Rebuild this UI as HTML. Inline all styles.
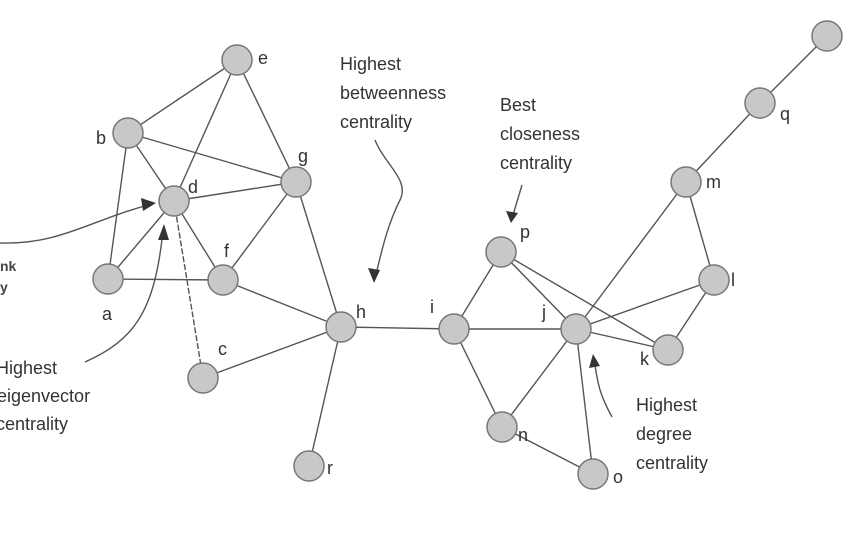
<!DOCTYPE html>
<html><head><style>
html,body{margin:0;padding:0;background:#fff;}
svg{display:block;font-family:"Liberation Sans",Arial,sans-serif;}
text{fill:#333;font-size:18px;}
</style></head><body>
<svg width="850" height="557" viewBox="0 0 850 557">
<g stroke="#555" stroke-width="1.4" fill="none">
<line x1="128" y1="133" x2="237" y2="60"/>
<line x1="237" y1="60" x2="174" y2="201"/>
<line x1="237" y1="60" x2="296" y2="182"/>
<line x1="128" y1="133" x2="174" y2="201"/>
<line x1="128" y1="133" x2="296" y2="182"/>
<line x1="128" y1="133" x2="108" y2="279"/>
<line x1="174" y1="201" x2="296" y2="182"/>
<line x1="174" y1="201" x2="108" y2="279"/>
<line x1="174" y1="201" x2="223" y2="280"/>
<line x1="174" y1="201" x2="203" y2="378" stroke-dasharray="6,2"/>
<line x1="108" y1="279" x2="223" y2="280"/>
<line x1="223" y1="280" x2="296" y2="182"/>
<line x1="223" y1="280" x2="341" y2="327"/>
<line x1="296" y1="182" x2="341" y2="327"/>
<line x1="203" y1="378" x2="341" y2="327"/>
<line x1="341" y1="327" x2="309" y2="466"/>
<line x1="341" y1="327" x2="454" y2="329"/>
<line x1="454" y1="329" x2="501" y2="252"/>
<line x1="454" y1="329" x2="576" y2="329"/>
<line x1="454" y1="329" x2="502" y2="427"/>
<line x1="501" y1="252" x2="576" y2="329"/>
<line x1="501" y1="252" x2="668" y2="350"/>
<line x1="576" y1="329" x2="668" y2="350"/>
<line x1="576" y1="329" x2="714" y2="280"/>
<line x1="576" y1="329" x2="502" y2="427"/>
<line x1="576" y1="329" x2="593" y2="474"/>
<line x1="576" y1="329" x2="686" y2="182"/>
<line x1="502" y1="427" x2="593" y2="474"/>
<line x1="714" y1="280" x2="668" y2="350"/>
<line x1="714" y1="280" x2="686" y2="182"/>
<line x1="686" y1="182" x2="760" y2="103"/>
<line x1="760" y1="103" x2="827" y2="36"/>
<path d="M0 243 C60 245 90 220 152 204"/>
<path d="M85 362 C135 340 155 310 163 230"/>
<path d="M375 140 C385 165 410 180 400 200 C385 230 380 260 375 278"/>
<path d="M522 185 L513 215"/>
<path d="M612 417 C600 395 598 385 595 365"/>
</g>
<g fill="#333">
<polygon points="156,203 141,198 143,211"/>
<polygon points="164,224 158,240 169,240"/>
<polygon points="374,283 368,268 380,270"/>
<polygon points="511,223 506,211 518,213"/>
<polygon points="593,354 589,368 600,366"/>
</g>
<g fill="#c8c8c8" stroke="#777" stroke-width="1.5">
<circle cx="237" cy="60" r="15"/><circle cx="128" cy="133" r="15"/>
<circle cx="174" cy="201" r="15"/><circle cx="296" cy="182" r="15"/>
<circle cx="108" cy="279" r="15"/><circle cx="223" cy="280" r="15"/>
<circle cx="203" cy="378" r="15"/><circle cx="341" cy="327" r="15"/>
<circle cx="309" cy="466" r="15"/><circle cx="454" cy="329" r="15"/>
<circle cx="501" cy="252" r="15"/><circle cx="576" cy="329" r="15"/>
<circle cx="502" cy="427" r="15"/><circle cx="593" cy="474" r="15"/>
<circle cx="668" cy="350" r="15"/><circle cx="714" cy="280" r="15"/>
<circle cx="686" cy="182" r="15"/><circle cx="760" cy="103" r="15"/>
<circle cx="827" cy="36" r="15"/>
</g>
<text x="258" y="64">e</text><text x="96" y="144">b</text>
<text x="188" y="193">d</text><text x="298" y="162">g</text>
<text x="102" y="320">a</text><text x="224" y="257">f</text>
<text x="218" y="355">c</text><text x="356" y="318">h</text>
<text x="327" y="474">r</text><text x="430" y="313">i</text>
<text x="520" y="238">p</text><text x="542" y="318">j</text>
<text x="518" y="441">n</text><text x="613" y="483">o</text>
<text x="640" y="365">k</text><text x="731" y="286">l</text>
<text x="706" y="188">m</text><text x="780" y="120">q</text>
<text x="340" y="70">Highest</text>
<text x="340" y="99">betweenness</text>
<text x="340" y="128">centrality</text>
<text x="500" y="111">Best</text>
<text x="500" y="140">closeness</text>
<text x="500" y="169">centrality</text>
<text x="636" y="411">Highest</text>
<text x="636" y="440">degree</text>
<text x="636" y="469">centrality</text>
<text x="-4" y="374">Highest</text>
<text x="-3" y="402">eigenvector</text>
<text x="-4" y="430">centrality</text>
<text x="0" y="271" style="font-size:14px;font-weight:bold;fill:#444">nk</text>
<text x="0" y="292" style="font-size:14px;font-weight:bold;fill:#444">y</text>
</svg>
</body></html>
